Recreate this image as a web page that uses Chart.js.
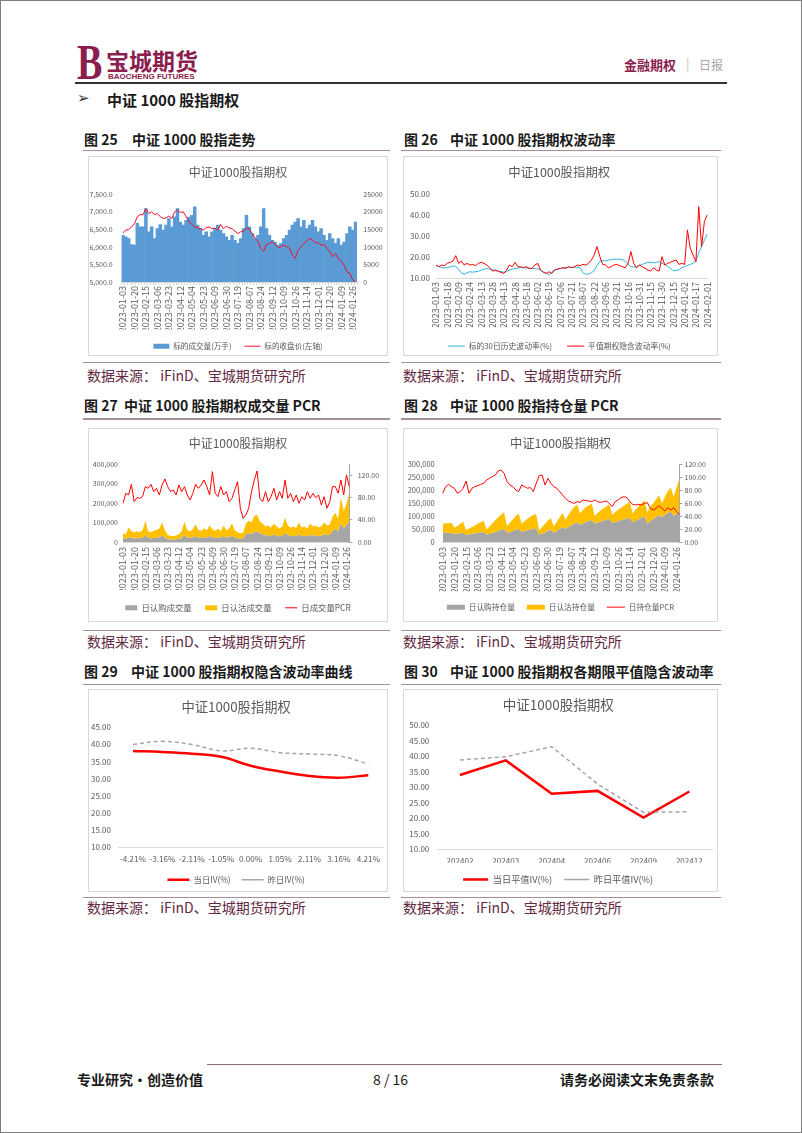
<!DOCTYPE html>
<html>
<head>
<meta charset="utf-8">
<title>中证1000股指期权</title>
<script src="https://cdn.jsdelivr.net/npm/chart.js@4.4.1/dist/chart.umd.min.js"></script>
<style>
  body { margin: 0; background: #fff; }
  #page { position: relative; width: 802px; height: 1133px; overflow: hidden; font-family: "Noto Sans CJK SC", sans-serif; color: #1a1a1a; }
  #frame { position: absolute; left: 0; top: 0; width: 802px; height: 1133px; box-sizing: border-box; border: 1px solid #7f7f7f; }
  .t { position: absolute; white-space: nowrap; }
  .fig { font-size: 14px; line-height: 14px; font-weight: bold; }
  .src { font-size: 14px; line-height: 14px; color: #632843; }
  .box { position: absolute; box-sizing: border-box; border: 1px solid #d9d9d9; }
  .rule { position: absolute; height: 1.5px; background: #a68e9a; }
  canvas { position: absolute; }
</style>
</head>
<body>
<div id="page">
  <div id="frame"></div>

  <!-- header -->
  <div class="t" style="left:77px;top:37px;font:bold 50px 'Liberation Serif';line-height:50px;color:#8b1e4f;transform:scaleX(0.76);transform-origin:left top;">B</div>
  <div class="t" style="left:106px;top:49px;font-size:23px;line-height:23px;font-weight:bold;color:#8b1e4f;">宝城期货</div>
  <div class="t" style="left:108px;top:73px;font:bold 8px 'Liberation Sans';line-height:8px;color:#8b1e4f;">BAOCHENG FUTURES</div>
  <div class="t" style="left:624px;top:58px;font-size:13px;line-height:13px;font-weight:bold;color:#8b1e4f;">金融期权</div>
  <div class="t" style="left:686px;top:57px;font-size:13px;line-height:13px;color:#bfbfbf;">|</div>
  <div class="t" style="left:699px;top:58.5px;font-size:12px;line-height:12px;color:#a6a6a6;">日报</div>
  <div class="t" style="left:75px;top:82px;width:652px;height:2px;background:#333;"></div>

  <div class="t" style="left:77px;top:91px;font:15px 'DejaVu Sans';line-height:15px;color:#333;">&#10146;</div>
  <div class="t" style="left:107px;top:91.8px;font-size:15px;line-height:15px;font-weight:bold;">中证 1000 股指期权</div>

  <!-- row 1 -->
  <div class="t fig" style="left:84px;top:131.6px;">图 25</div>
  <div class="t fig" style="left:132px;top:131.6px;">中证 1000 股指走势</div>
  <div class="t fig" style="left:404px;top:131.6px;">图 26</div>
  <div class="t fig" style="left:450px;top:131.6px;">中证 1000 股指期权波动率</div>
  <div class="rule" style="left:83px;top:149.5px;width:307px;"></div>
  <div class="rule" style="left:401px;top:149.5px;width:320px;"></div>
  <div class="box" style="left:88px;top:156px;width:300px;height:200px;"></div>
  <div class="box" style="left:403px;top:156px;width:315px;height:200px;"></div>
  <div class="rule" style="left:83px;top:361.5px;width:307px;"></div>
  <div class="rule" style="left:401px;top:361.5px;width:320px;"></div>
  <div class="t src" style="left:87px;top:367.8px;">数据来源：&nbsp;iFinD、宝城期货研究所</div>
  <div class="t src" style="left:403px;top:367.8px;">数据来源：&nbsp;iFinD、宝城期货研究所</div>

  <!-- row 2 -->
  <div class="t fig" style="left:84px;top:397.8px;">图 27</div>
  <div class="t fig" style="left:124px;top:397.8px;">中证 1000 股指期权成交量 PCR</div>
  <div class="t fig" style="left:404px;top:397.8px;">图 28</div>
  <div class="t fig" style="left:450px;top:397.8px;">中证 1000 股指持仓量 PCR</div>
  <div class="rule" style="left:83px;top:418px;width:307px;"></div>
  <div class="rule" style="left:401px;top:418px;width:320px;"></div>
  <div class="box" style="left:88px;top:428px;width:300px;height:194px;"></div>
  <div class="box" style="left:403px;top:428px;width:315px;height:194px;"></div>
  <div class="rule" style="left:83px;top:629.5px;width:307px;"></div>
  <div class="rule" style="left:401px;top:629.5px;width:320px;"></div>
  <div class="t src" style="left:87px;top:633.8px;">数据来源：&nbsp;iFinD、宝城期货研究所</div>
  <div class="t src" style="left:403px;top:633.8px;">数据来源：&nbsp;iFinD、宝城期货研究所</div>

  <!-- row 3 -->
  <div class="t fig" style="left:84px;top:664.3px;">图 29</div>
  <div class="t fig" style="left:131px;top:664.3px;">中证 1000 股指期权隐含波动率曲线</div>
  <div class="t fig" style="left:404px;top:664.3px;">图 30</div>
  <div class="t fig" style="left:450px;top:664.3px;">中证 1000 股指期权各期限平值隐含波动率</div>
  <div class="rule" style="left:83px;top:683.5px;width:307px;"></div>
  <div class="rule" style="left:401px;top:683.5px;width:320px;"></div>
  <div class="box" style="left:88px;top:689px;width:300px;height:203px;"></div>
  <div class="box" style="left:403px;top:689px;width:315px;height:203px;"></div>
  <div class="rule" style="left:83px;top:896.5px;width:307px;"></div>
  <div class="rule" style="left:401px;top:896.5px;width:320px;"></div>
  <div class="t src" style="left:87px;top:900.3px;">数据来源：&nbsp;iFinD、宝城期货研究所</div>
  <div class="t src" style="left:403px;top:900.3px;">数据来源：&nbsp;iFinD、宝城期货研究所</div>

  <!-- footer -->
  <div class="t" style="left:207px;top:1063.5px;width:515px;height:1.5px;background:#8e6b7c;"></div>
  <div class="t fig" style="left:77px;top:1072.3px;">专业研究·创造价值</div>
  <div class="t fig" style="left:373px;top:1072.3px;font-weight:normal;">8 / 16</div>
  <div class="t fig" style="left:560px;top:1072.3px;">请务必阅读文末免责条款</div>

  <canvas id="c25" width="298" height="203" style="left:89px;top:157px;"></canvas>
  <canvas id="c26" width="318" height="203" style="left:404px;top:157px;"></canvas>
  <canvas id="c27" width="298" height="193" style="left:89px;top:429px;"></canvas>
  <canvas id="c28" width="313" height="192" style="left:404px;top:429px;"></canvas>
  <canvas id="c29" width="298" height="204" style="left:89px;top:690px;"></canvas>
  <canvas id="c30" width="313" height="204" style="left:404px;top:690px;"></canvas>
</div>

<script>
"use strict";

// tick dates shown on the time axes (one every 4 samples)
var datesA = ['2023-01-03','2023-01-20','2023-02-15','2023-03-06','2023-03-23','2023-04-12','2023-05-04',
  '2023-05-23','2023-06-09','2023-06-30','2023-07-19','2023-08-07','2023-08-24','2023-09-12','2023-10-09',
  '2023-10-26','2023-11-14','2023-12-01','2023-12-20','2024-01-09','2024-01-26'];
var datesB = ['2023-01-03','2023-01-18','2023-02-09','2023-02-24','2023-03-13','2023-03-28','2023-04-13',
  '2023-04-28','2023-05-18','2023-06-02','2023-06-19','2023-07-06','2023-07-21','2023-08-07','2023-08-22',
  '2023-09-06','2023-09-21','2023-10-16','2023-10-31','2023-11-15','2023-11-30','2023-12-15','2024-01-02',
  '2024-01-17','2024-02-01'];

// fig 25: volume (right axis) and close (left axis)
var vol25 = [13300,12900,12400,10700,10500,16700,15700,15700,20900,14300,
  15700,12400,15200,16400,14800,16200,18100,15700,18600,20900,
  17100,16200,17600,18500,19000,21400,16200,15200,13300,14300,
  12900,14300,15200,16200,14800,13800,12900,11900,13300,11900,
  11000,12400,15200,19000,15700,13800,12400,13300,15700,20900,
  15200,13300,11900,11400,10500,11000,12400,13300,14800,16200,
  17100,18100,15700,17600,15200,16200,17600,15700,14300,15200,
  13300,11900,13800,12400,11000,12400,10500,11400,13800,15700,
  14800,17100];
var close25 = [6400,6480,6500,6570,6670,6860,6920,6920,7090,6950,
  7000,6920,6950,6860,6810,6830,6880,6810,7000,7050,
  6980,7000,6860,6710,6640,6570,6550,6520,6480,6550,
  6570,6520,6540,6480,6640,6520,6590,6540,6520,6450,
  6380,6430,6450,6540,6520,6380,6260,6150,5960,5880,
  6070,6100,6150,6070,5980,6010,6050,6010,5960,5770,
  5670,5910,6000,6100,6170,6240,6190,6120,6120,6050,
  6070,5960,5860,5720,5810,5670,5580,5480,5290,5250,
  5060,4990];

// fig 26: 30 day historical vol and ATM implied vol
var hv26 = [16.0,15.5,15.0,14.8,15.0,15.3,15.8,15.6,14.0,12.5,
  11.8,12.5,13.0,12.8,13.0,13.2,13.8,14.2,14.5,14.3,
  14.0,13.5,13.2,13.0,12.8,13.0,13.8,14.2,14.5,14.8,
  15.0,15.0,14.8,14.6,14.5,14.5,14.3,13.8,13.0,12.3,
  11.5,13.0,13.8,14.2,14.5,14.8,15.0,15.2,15.0,15.0,
  15.2,15.0,12.5,11.8,11.8,12.5,13.5,16.0,18.0,18.2,
  18.2,18.5,18.8,19.0,19.0,19.0,18.8,18.0,16.5,15.5,
  15.2,15.5,16.0,16.5,17.0,17.5,17.5,17.2,17.5,17.8,
  17.0,16.5,15.5,14.5,13.5,13.5,14.0,14.8,15.5,16.0,
  16.5,17.0,18.0,22.0,25.0,28.0,31.0];
var iv26 = [16.2,15.4,16.2,15.9,17.0,17.5,18.1,20.7,17.0,18.1,
  16.2,17.0,16.2,16.5,15.9,17.0,17.5,17.0,16.2,14.9,
  13.3,13.8,13.3,12.7,12.2,13.8,16.2,15.4,17.5,15.4,
  15.4,14.9,15.4,14.6,14.6,16.2,17.0,13.8,12.7,12.2,
  13.0,12.2,13.8,14.3,14.6,14.9,14.6,15.4,14.9,15.4,
  16.2,15.9,16.5,16.2,17.0,18.6,21.0,25.0,20.2,16.5,
  16.2,14.9,15.4,16.2,16.5,15.9,15.4,14.9,17.0,22.6,
  17.0,14.9,16.2,15.4,14.6,13.8,13.3,14.9,13.8,13.3,
  20.2,16.2,17.0,17.5,18.1,18.6,16.5,17.0,16.5,33.0,
  24.2,21.0,17.8,44.1,25.0,36.9,40.1];

// fig 27: daily call / put volume (stacked) and volume PCR
var call27 = [18000,15000,25000,20000,18000,20000,18000,22000,35000,20000,
  18000,20000,22000,25000,32000,22000,14000,12000,12000,14000,
  16000,20000,35000,22000,20000,24000,30000,22000,20000,25000,
  22000,30000,24000,20000,25000,20000,30000,22000,25000,32000,
  22000,18000,16000,18000,40000,45000,40000,50000,55000,42000,
  40000,32000,35000,30000,38000,32000,28000,32000,45000,35000,
  30000,32000,30000,38000,30000,32000,28000,36000,32000,34000,
  30000,32000,40000,35000,38000,55000,65000,55000,95000,70000,
  85000,105000];
var put27 = [26000,25000,50000,35000,32000,35000,32000,38000,75000,35000,
  32000,38000,40000,45000,68000,38000,22000,20000,18000,20000,
  24000,35000,70000,38000,35000,41000,60000,40000,38000,45000,
  38000,55000,41000,38000,45000,35000,55000,38000,45000,63000,
  38000,32000,29000,30000,55000,65000,60000,85000,85000,63000,
  55000,48000,50000,45000,57000,48000,42000,48000,80000,50000,
  45000,48000,42000,62000,45000,48000,42000,59000,48000,51000,
  45000,48000,60000,50000,52000,75000,85000,65000,135000,90000,
  115000,150000];
var pcr27 = [69.7,87.7,84.7,104.0,72.7,80.0,78.7,81.7,99.8,96.8,
  104.0,90.8,96.8,84.7,102.8,113.6,99.8,90.8,93.8,84.7,
  102.8,90.8,99.8,84.7,75.7,87.7,104.0,96.8,102.8,111.8,
  99.8,84.7,126.8,87.7,81.7,99.8,84.7,90.8,72.7,78.7,
  93.8,108.8,60.7,42.7,48.7,60.7,90.8,111.8,128.0,78.7,
  72.7,90.8,72.7,81.7,96.8,75.7,90.8,78.7,111.8,78.7,
  87.7,72.7,84.7,69.7,81.7,75.7,90.8,78.7,87.7,79.9,
  84.7,66.7,81.7,60.7,72.7,99.8,99.8,87.7,111.8,84.7,
  120.8,99.8];

// fig 28: call / put open interest (stacked) and OI PCR
var call28 = [37000,36000,35000,34000,30000,32000,34000,35000,27000,29000,
  31000,33000,35000,37000,38000,28000,31000,35000,38000,42000,
  46000,50000,35000,38000,42000,46000,50000,38000,42000,45000,
  48000,50000,52000,27000,32000,37000,42000,46000,35000,42000,
  50000,56000,50000,58000,64000,70000,75000,66000,72000,76000,
  80000,84000,70000,74000,78000,82000,86000,89000,72000,76000,
  80000,84000,87000,90000,93000,75000,82000,88000,94000,98000,
  70000,80000,88000,96000,104000,95000,105000,112000,118000,100000,
  108000,115000];
var put28 = [33000,36000,37000,40000,25000,30000,36000,43000,18000,23000,
  27000,31000,35000,39000,44000,20000,29000,37000,46000,54000,
  60000,65000,27000,37000,46000,54000,60000,32000,38000,45000,
  50000,54000,56000,18000,26000,33000,40000,46000,25000,36000,
  46000,56000,35000,47000,58000,65000,70000,44000,53000,59000,
  62000,64000,30000,38000,44000,48000,52000,56000,33000,39000,
  45000,48000,53000,58000,62000,35000,43000,50000,56000,62000,
  45000,55000,62000,69000,76000,55000,70000,83000,92000,75000,
  102000,130000];
var pcr28 = [75.2,85.5,89.0,85.5,83.0,75.2,77.8,83.0,94.2,75.2,
  83.0,85.5,87.0,89.0,90.6,95.8,98.4,101.0,103.5,109.7,
  111.2,106.0,93.2,88.0,85.5,80.3,77.8,88.0,85.5,83.0,
  84.0,77.8,90.6,102.5,103.5,88.0,98.4,90.6,85.5,83.0,
  77.8,72.6,67.5,63.3,61.3,59.7,62.3,61.3,64.9,63.9,
  63.3,62.3,64.9,62.3,61.3,62.3,63.3,59.7,54.6,62.3,
  64.9,68.5,70.0,68.5,62.3,58.2,57.2,58.2,57.2,59.7,
  60.8,52.0,49.4,52.0,56.1,52.0,47.9,53.0,49.4,53.0,
  46.9,42.7];

// fig 29: IV smile
var strikes29 = ['-4.21%','-3.16%','-2.11%','-1.05%','0.00%','1.05%','2.11%','3.16%','4.21%'];
var ivToday29 = [38.1, 37.8, 37.3, 36.4, 33.8, 32.1, 30.8, 30.3, 31.0];
var ivYest29 = [40.0, 40.9, 40.0, 38.1, 38.9, 37.6, 37.2, 36.7, 34.3];

// fig 30: ATM IV term structure
var months30 = ['202402','202403','202404','202406','202409','202412'];
var atmToday30 = [33.9, 38.6, 27.9, 28.8, 20.2, 28.6];
var atmYest30 = [38.7, 39.8, 43.0, 31.0, 21.9, 22.1];

var FONT = '"Noto Sans CJK SC", "Noto Sans", sans-serif';
Chart.defaults.font.family = FONT;
Chart.defaults.color = '#595959';

function tickLabels(ticks, n) {
  var out = [];
  for (var i = 0; i < n; i++) {
    out.push(i % 4 === 0 && ticks[i / 4] ? ticks[i / 4] : '');
  }
  return out;
}

function fmtComma1(v) { return v.toLocaleString('en-US', { minimumFractionDigits: 1, maximumFractionDigits: 1 }); }
function fmtComma0(v) { return v.toLocaleString('en-US'); }
function fmtPlain(v) { return String(v); }
function fmt2(v) { return v.toFixed(2); }
function fixW(w) { return function(s) { s.width = w; }; }
function fixH(h) { return function(s) { s.height = h; }; }

function titleCfg(size, top, bottom) {
  return { display: true, text: '中证1000股指期权', color: '#595959',
    font: { size: size, weight: 'normal' }, padding: { top: top, bottom: bottom } };
}

function legendCfg(size, pad, sw) {
  return {
    position: 'bottom',
    labels: {
      usePointStyle: true,
      pointStyleWidth: sw,
      boxHeight: 5,
      padding: pad,
      color: '#595959',
      font: { size: size },
      sort: function(a, b) { return a.datasetIndex - b.datasetIndex; },
      generateLabels: function(chart) {
        var items = Chart.defaults.plugins.legend.labels.generateLabels(chart);
        items.forEach(function(it) {
          it.pointStyle = chart.data.datasets[it.datasetIndex].swatch;
        });
        return items;
      }
    }
  };
}

function baseOptions(title, legend, padRight) {
  return {
    responsive: false,
    animation: false,
    devicePixelRatio: 1,
    layout: { padding: { left: 0, top: 0, bottom: 0, right: padRight || 0 } },
    plugins: { title: title, legend: legend, tooltip: { enabled: false } }
  };
}

function timeAxis(h, pad) {
  return {
    grid: { display: false, drawTicks: false },
    border: { color: '#d9d9d9' },
    ticks: { autoSkip: false, minRotation: 90, maxRotation: 90, padding: pad, font: { size: 9 } },
    afterFit: fixH(h)
  };
}

function valueAxis(pos, min, max, step, fmt, size, pad, w) {
  return {
    position: pos, min: min, max: max,
    grid: { display: false, drawTicks: false },
    border: { display: false },
    ticks: { stepSize: step, padding: pad, font: { size: size }, callback: fmt },
    afterFit: fixW(w)
  };
}

// ---- fig 25 ----
var opt25 = baseOptions(titleCfg(12, 7.8, 15.1), legendCfg(7.6, 13, 16));
opt25.scales = {
  x: timeAxis(47.4, 1),
  y: valueAxis('left', 5000, 7500, 500, fmtComma1, 7, 8.8, 32.5),
  y1: valueAxis('right', 0, 25000, 5000, fmtPlain, 7, 6.3, 30)
};
opt25.scales.x.grid = { display: true, drawOnChartArea: false, drawTicks: true, tickLength: 3, color: '#d9d9d9' };
new Chart(document.getElementById('c25'), {
  type: 'bar',
  data: {
    labels: tickLabels(datesA, vol25.length),
    datasets: [
      { label: '标的成交量(万手)', data: vol25, yAxisID: 'y1', backgroundColor: '#5b9bd5', borderWidth: 0,
        barPercentage: 1, categoryPercentage: 1, order: 1, swatch: 'rect' },
      { type: 'line', label: '标的收盘价(左轴)', data: close25, yAxisID: 'y', borderColor: '#f0102a',
        backgroundColor: '#f0102a', borderWidth: 1, pointRadius: 0, order: 0, swatch: 'line' }
    ]
  },
  options: opt25
});

// ---- fig 26 ----
var opt26 = baseOptions(titleCfg(12.4, 7.56, 14.86), legendCfg(7.8, 15, 17), 7.5);
opt26.scales = {
  x: timeAxis(49.2, 4),
  y: valueAxis('left', 10, 50, 5, fmt2, 8, 6, 32)
};
new Chart(document.getElementById('c26'), {
  type: 'line',
  data: {
    labels: tickLabels(datesB, hv26.length),
    datasets: [
      { label: '标的30日历史波动率(%)', data: hv26, borderColor: '#2fb3e0', backgroundColor: '#2fb3e0',
        borderWidth: 1, pointRadius: 0, order: 1, swatch: 'line' },
      { label: '平值期权隐含波动率(%)', data: iv26, borderColor: '#ff0000', backgroundColor: '#ff0000',
        borderWidth: 1, pointRadius: 0, order: 0, swatch: 'line' }
    ]
  },
  options: opt26
});

// ---- fig 27 / 28 share a layout ----
function pcrChart(id, call, put, pcr, names, cfg) {
  var opt = baseOptions(titleCfg(cfg.title, cfg.titleTop, cfg.titleBottom), legendCfg(cfg.legend, cfg.legendPad, cfg.sw));
  var y = valueAxis('left', 0, cfg.leftMax, 50000, fmtComma0, cfg.leftFont, cfg.leftPad, cfg.leftW);
  y.stacked = true;
  var y1 = valueAxis('right', 0, cfg.rightMax, 20, fmt2, 7, cfg.rightPad, cfg.rightW);
  y1.grid = { display: true, drawOnChartArea: false, drawTicks: true, tickLength: 3, color: '#a6a6a6' };
  y1.border = { display: true, color: '#a6a6a6' };
  opt.scales = { x: timeAxis(cfg.xH, 5), y: y, y1: y1 };
  new Chart(document.getElementById(id), {
    type: 'line',
    data: {
      labels: tickLabels(datesA, call.length),
      datasets: [
        { label: names[0], data: call, yAxisID: 'y', fill: 'origin', backgroundColor: '#a5a5a5',
          borderColor: 'rgba(0,0,0,0)', borderWidth: 0, pointRadius: 0, order: 1, swatch: 'rect' },
        { label: names[1], data: put, yAxisID: 'y', fill: '-1', backgroundColor: '#ffc000',
          borderColor: 'rgba(0,0,0,0)', borderWidth: 0, pointRadius: 0, order: 1, swatch: 'rect' },
        { label: names[2], data: pcr, yAxisID: 'y1', fill: false, borderColor: '#ff0000',
          backgroundColor: '#ff0000', borderWidth: 1, pointRadius: 0, order: 0, swatch: 'line' }
      ]
    },
    options: opt
  });
}

pcrChart('c27', call27, put27, pcr27, ['日认购成交量', '日认沽成交量', '日成交量PCR'], {
  title: 12, titleTop: 7.1, titleBottom: 13.8, legend: 8.4, legendPad: 13.5, sw: 12,
  leftMax: 400000, leftFont: 7, leftPad: 5, leftW: 34, rightMax: 140, rightPad: 5.4, rightW: 37.7, xH: 48.1
});
pcrChart('c28', call28, put28, pcr28, ['日认购持仓量', '日认沽持仓量', '日持仓量PCR'], {
  title: 12.3, titleTop: 6.92, titleBottom: 13.62, legend: 7.7, legendPad: 12, sw: 18,
  leftMax: 300000, leftFont: 7.5, leftPad: 8, leftW: 38.7, rightMax: 120, rightPad: 2, rightW: 37.5, xH: 49.3
});

// ---- fig 29 / 30: category line charts ----
function ivChart(id, labels, today, yest, names, cfg) {
  var opt = baseOptions(titleCfg(cfg.title, cfg.titleTop, cfg.titleBottom), legendCfg(cfg.legend, cfg.legendPad, cfg.sw), cfg.padRight);
  opt.scales = {
    x: {
      offset: true,
      grid: { display: false, drawTicks: false },
      border: { color: '#d9d9d9' },
      ticks: { autoSkip: false, minRotation: 0, maxRotation: 0, padding: cfg.xPad, font: { size: 8.1 } },
      afterFit: fixH(cfg.xH)
    },
    y: valueAxis('left', 10, cfg.yMax, 5, fmt2, 8, cfg.yPad, cfg.yW)
  };
  new Chart(document.getElementById(id), {
    type: 'line',
    data: {
      labels: labels,
      datasets: [
        { label: names[0], data: today, borderColor: '#ff0000', backgroundColor: '#ff0000', borderWidth: 2.5,
          pointRadius: 0, tension: cfg.tension, order: 1, swatch: 'line' },
        { label: names[1], data: yest, borderColor: '#a6a6a6', backgroundColor: '#a6a6a6', borderWidth: 1.5,
          borderDash: [4, 3], pointRadius: 0, tension: cfg.tension, order: 0, swatch: 'line' }
      ]
    },
    options: opt
  });
}

ivChart('c29', strikes29, ivToday29, ivYest29, ['当日IV(%)', '昨日IV(%)'], {
  title: 13.3, titleTop: 8.72, titleBottom: 12.62, legend: 8.3, legendPad: 11, sw: 22, padRight: 3.7,
  xPad: 6.9, xH: 17.4, yMax: 45, yPad: 7.3, yW: 29.3, tension: 0.4
});
ivChart('c30', months30, atmToday30, atmYest30, ['当日平值IV(%)', '昨日平值IV(%)'], {
  title: 13.5, titleTop: 6.9, titleBottom: 11.9, legend: 9.2, legendPad: 12, sw: 25, padRight: 4.7,
  xPad: 6.6, xH: 13.5, yMax: 50, yPad: 7.7, yW: 33, tension: 0
});
</script>
</body>
</html>
